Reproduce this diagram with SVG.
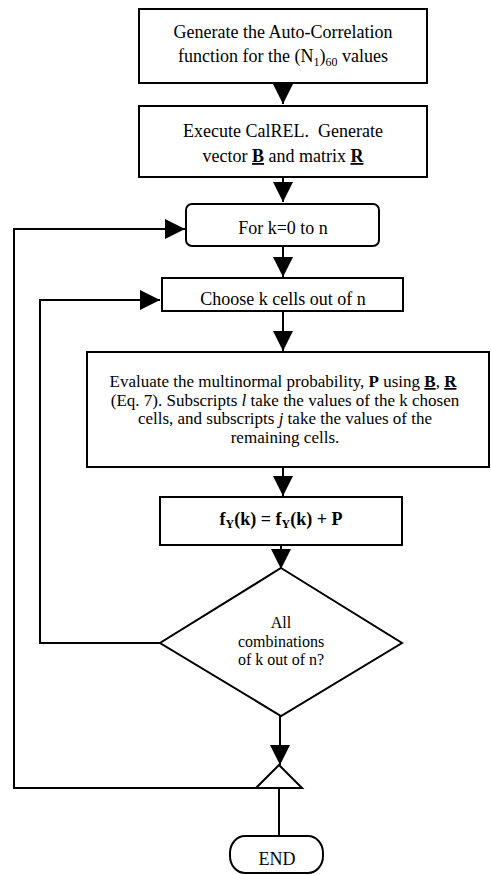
<svg xmlns="http://www.w3.org/2000/svg" width="491" height="875" viewBox="0 0 491 875">
<style>
.box{fill:#fff;stroke:#000;stroke-width:2}
.t{font-family:"Liberation Serif","Times New Roman",serif;font-size:18px;fill:#000;text-anchor:middle}
.e{font-size:17px}
.d{font-size:16px}
.b{font-weight:bold}
.u{font-weight:bold;text-decoration:underline}
.c{fill:none;stroke:#000;stroke-width:2}
</style>
<defs>
<marker id="arr" viewBox="0 0 20 20" refX="20" refY="10" markerWidth="20" markerHeight="20" markerUnits="userSpaceOnUse" orient="auto">
<path d="M0,0 L20,10 L0,20 z" fill="#000"/>
</marker>
</defs>
<rect width="491" height="875" fill="#fff"/>
<g id="connectors">
<line class="c" x1="283" y1="83" x2="283" y2="104" marker-end="url(#arr)"/>
<line class="c" x1="283" y1="177" x2="283" y2="202" marker-end="url(#arr)"/>
<line class="c" x1="283" y1="246" x2="283" y2="277" marker-end="url(#arr)"/>
<line class="c" x1="283" y1="311" x2="283" y2="351" marker-end="url(#arr)"/>
<line class="c" x1="283" y1="467" x2="283" y2="496" marker-end="url(#arr)"/>
<line class="c" x1="281" y1="545" x2="281" y2="569" marker-end="url(#arr)"/>
<line class="c" x1="280" y1="716" x2="280" y2="765" marker-end="url(#arr)"/>
<polyline class="c" points="160,643 40,643 40,300 160,300" marker-end="url(#arr)"/>
<polyline class="c" points="256,788 14,788 14,229 185,229" marker-end="url(#arr)"/>
<line class="c" x1="279" y1="788" x2="279" y2="836"/>
</g>
<g id="autocorr">
<rect class="box" x="139" y="9" width="288" height="74"/>
<text class="t" x="283" y="38">Generate the Auto-Correlation</text>
<text class="t" x="283" y="62">function for the (N<tspan font-size="12" dy="4">1</tspan><tspan dy="-4">)</tspan><tspan font-size="12" dy="4">60</tspan><tspan dy="-4"> values</tspan></text>
</g>
<g id="calrel">
<rect class="box" x="139" y="106" width="288" height="71"/>
<text class="t" x="283" y="137" xml:space="preserve">Execute CalREL.  Generate</text>
<text class="t" x="283" y="162">vector <tspan class="u">B</tspan> and matrix <tspan class="u">R</tspan></text>
</g>
<g id="fork">
<rect class="box" x="186" y="204" width="193" height="42" rx="6"/>
<text class="t" x="283" y="234">For k=0 to n</text>
</g>
<g id="choose">
<rect class="box" x="162" y="278" width="241" height="33"/>
<text class="t" x="283" y="305">Choose k cells out of n</text>
</g>
<g id="evaluate">
<rect class="box" x="87" y="352" width="402" height="115"/>
<text class="t e" x="283" y="387">Evaluate the multinormal probability, <tspan class="b">P</tspan> using <tspan class="u">B</tspan>, <tspan class="u">R</tspan></text>
<text class="t e" x="285" y="405.5">(Eq. 7). Subscripts <tspan font-style="italic">l</tspan> take the values of the k chosen</text>
<text class="t e" x="285" y="424">cells, and subscripts <tspan font-style="italic">j</tspan> take the values of the</text>
<text class="t e" x="285" y="442.5">remaining cells.</text>
</g>
<g id="accumulate">
<rect class="box" x="160" y="497" width="242" height="48"/>
<text class="t b" x="281" y="525">f<tspan font-size="12" dy="3">Y</tspan><tspan dy="-3">(k) = f</tspan><tspan font-size="12" dy="3">Y</tspan><tspan dy="-3">(k) + P</tspan></text>
</g>
<g id="decision">
<polygon class="box" points="281,568 402,643 281,716 160,643"/>
<text class="t d" x="281" y="628">All</text>
<text class="t d" x="281" y="647">combinations</text>
<text class="t d" x="281" y="665">of k out of n?</text>
</g>
<g id="merge">
<polygon class="box" points="279,765 302,788 256,788"/>
</g>
<g id="end">
<rect class="box" x="230" y="836" width="93" height="37" rx="15" ry="17"/>
<text class="t" x="277" y="865">END</text>
</g>
</svg>
